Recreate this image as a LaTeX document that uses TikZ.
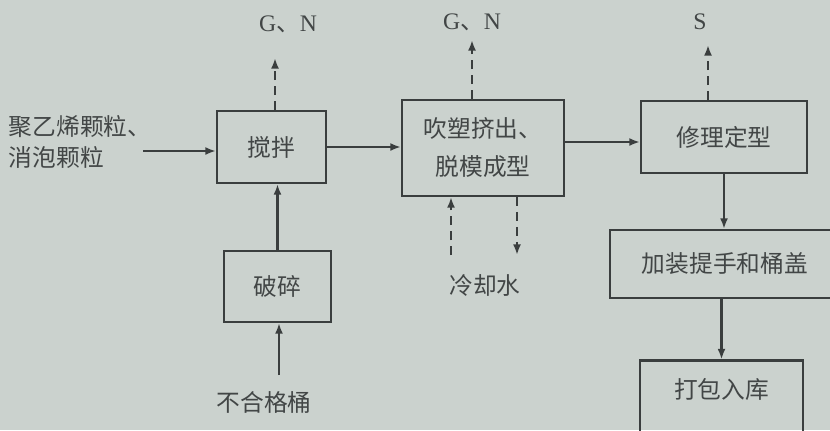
\documentclass[tikz,border=0pt]{standalone}
\usepackage{fontspec}
\setmainfont{Liberation Serif}
\newfontfamily\cjk{Noto Sans CJK SC}
\usetikzlibrary{arrows.meta, calc}

\definecolor{paper}{RGB}{203,210,206}
\definecolor{ink}{RGB}{58,62,62}
\definecolor{txt}{RGB}{66,70,70}

\begin{document}
\begin{tikzpicture}[
  x=0.02cm, y=-0.02cm,
  box/.style = {draw=ink, line width=1.2pt, inner sep=0pt, text=txt, align=center},
  flow/.style = {draw=ink, line width=1.2pt, -{Latex[length=6pt, width=4.5pt]}},
  waste/.style = {flow, dash pattern=on 5pt off 3.5pt},
  lbl/.style = {text=txt, inner sep=0pt},
  every node/.style = {font=\cjk\fontsize{13.5pt}{17.6pt}\selectfont}
]

% Canvas
\fill[paper] (0,0) rectangle (830,430);
\useasboundingbox (0,0) rectangle (830,430);
\clip (0,0) rectangle (830,430);

% Process boxes
\node[box, minimum width=2.18cm, minimum height=1.44cm] (mix) at (271.5,147) {搅拌};
\node[box, minimum width=2.14cm, minimum height=1.42cm] (crush) at (277.5,286.5) {破碎};
\node[box, minimum width=3.24cm, minimum height=1.92cm] (blow) at (483,148)
  {吹塑挤出、\\[4pt]脱模成型};
\node[box, minimum width=3.32cm, minimum height=1.44cm] (trim) at (724,137) {修理定型};
\node[box, minimum width=4.6cm, minimum height=1.36cm] (fit) at (725,264) {加装提手和桶盖};
\node[box, minimum width=3.26cm, minimum height=1.78cm, text depth=0.65cm] (pack) at (721.5,405) {打包入库};

% Inputs and outputs
\node[lbl, align=left] (feed) at (80,142) {聚乙烯颗粒、\\消泡颗粒};
\node[lbl] (reject) at (264,402) {不合格桶};
\node[lbl] (water) at (485,285) {冷却水};
\node[lbl, font=\fontsize{13.5pt}{16pt}\selectfont] (gn1) at (288,24) {G{\cjk 、}N};
\node[lbl, font=\fontsize{13.5pt}{16pt}\selectfont] (gn2) at (472,22) {G{\cjk 、}N};
\node[lbl, font=\fontsize{13.5pt}{16pt}\selectfont] (s) at (700,22) {S};

% Free ends
\coordinate (feedend) at (143,151);
\coordinate (rejtop) at (279,375);
\coordinate (gn1foot) at (275,58);
\coordinate (gn2foot) at (472,40);
\coordinate (sfoot) at (708,45);
\coordinate (cwin) at (451,255);
\coordinate (cwout) at (517,255);
\coordinate (b2t) at ($(blow.east)+(0,-6)$);

% Main line
\draw[flow] (feedend) -- (feedend -| mix.west);
\draw[flow] (mix.east) -- (mix.east -| blow.west);
\draw[flow] (b2t) -- (b2t -| trim.west);
\draw[flow] (trim.south) -- (trim.south |- fit.north);
\draw[flow] (pack.north |- fit.south) -- (pack.north);

% Recycling
\draw[flow] (rejtop) -- (rejtop |- crush.south);
\draw[flow] (crush.north) -- (crush.north |- mix.south);

% Emissions and cooling water
\draw[waste] (gn1foot |- mix.north) -- (gn1foot);
\draw[waste] (gn2foot |- blow.north) -- (gn2foot);
\draw[waste] (sfoot |- trim.north) -- (sfoot);
\draw[waste] (cwin) -- (cwin |- blow.south);
\draw[waste] (cwout |- blow.south) -- (cwout);

\end{tikzpicture}
\end{document}
